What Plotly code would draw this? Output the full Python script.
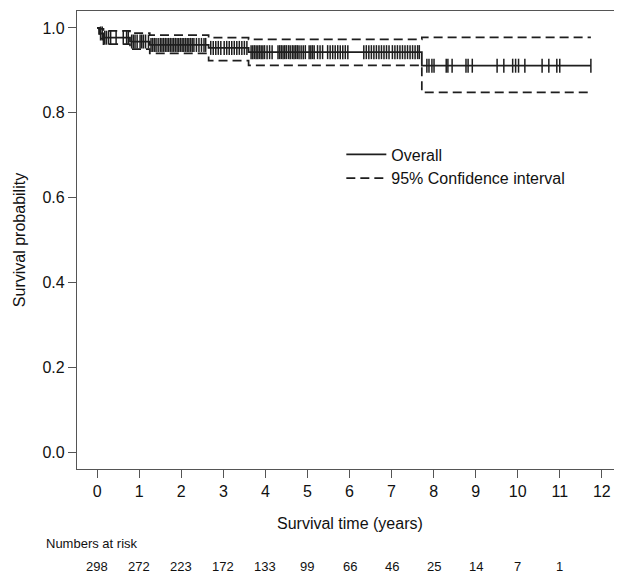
import plotly.graph_objects as go

# Kaplan-Meier step data (time in years)
step_times = [0, 0.05, 0.15, 0.78, 1.25, 2.65, 3.6, 7.72, 11.74]
surv = [1.0, 0.987, 0.977, 0.968, 0.960, 0.953, 0.943, 0.911, 0.911]
upper_ci = [1.0, 0.998, 0.993, 0.988, 0.983, 0.977, 0.973, 0.978, 0.978]
lower_ci = [1.0, 0.975, 0.962, 0.950, 0.940, 0.923, 0.912, 0.848, 0.848]

censor_times = [
    0.08, 0.12, 0.18, 0.22, 0.27, 0.32, 0.45, 0.62, 0.70, 0.74, 0.82, 0.86, 0.90, 0.95,
    1.02, 1.06, 1.10, 1.15, 1.22, 1.28, 1.32, 1.36, 1.40, 1.45, 1.50, 1.54, 1.58, 1.62,
    1.66, 1.70, 1.74, 1.78, 1.82, 1.86, 1.90, 1.94, 1.98,
    2.02, 2.06, 2.10, 2.14, 2.18, 2.22, 2.26, 2.30, 2.36, 2.42, 2.48, 2.54, 2.58, 2.70,
    2.76, 2.82, 2.88, 2.94,
    3.02, 3.08, 3.14, 3.20, 3.26, 3.32, 3.38, 3.44, 3.50, 3.56, 3.66, 3.70, 3.74, 3.78,
    3.82, 3.86, 3.90, 3.94, 3.98,
    4.04, 4.10, 4.16, 4.30, 4.34, 4.38, 4.42, 4.46, 4.50, 4.55, 4.59, 4.64, 4.68, 4.72,
    4.76, 4.80, 4.85, 4.90, 4.95,
    5.04, 5.08, 5.12, 5.16, 5.24, 5.30, 5.36, 5.48, 5.54, 5.60, 5.66, 5.72, 5.78, 5.84,
    5.90, 5.96,
    6.34, 6.40, 6.46, 6.52, 6.58, 6.64, 6.70, 6.76, 6.82, 6.88, 6.94,
    7.02, 7.08, 7.14, 7.20, 7.26, 7.32, 7.38, 7.44, 7.50, 7.56, 7.62, 7.66,
    7.84, 7.89, 7.96, 8.01, 8.30, 8.34, 8.44, 8.77, 8.82, 8.92, 9.51, 9.67, 9.88, 9.95,
    10.02, 10.17, 10.58, 10.74, 10.93, 11.00, 11.74,
]

risk_times = [0, 1, 2, 3, 4, 5, 6, 7, 8, 9, 10, 11]
risk_counts = [298, 272, 223, 172, 133, 99, 66, 46, 25, 14, 7, 1]
x_ticks = list(range(0, 13))
y_ticks = [0.0, 0.2, 0.4, 0.6, 0.8, 1.0]


def surv_at(t):
    val = surv[0]
    for st, sv in zip(step_times, surv):
        if st <= t:
            val = sv
    return val


censor_y = [surv_at(t) for t in censor_times]

LINE = "#1e1e1e"
FONT = "Liberation Sans, Arial, sans-serif"

fig = go.Figure()
fig.add_trace(go.Scatter(x=step_times, y=surv, mode="lines", line_shape="hv",
                         line=dict(color=LINE, width=1.8), name="Overall"))
fig.add_trace(go.Scatter(x=step_times, y=upper_ci, mode="lines", line_shape="hv",
                         line=dict(color=LINE, width=1.7, dash="9px,5px"),
                         name="95% Confidence interval"))
fig.add_trace(go.Scatter(x=step_times, y=lower_ci, mode="lines", line_shape="hv",
                         line=dict(color=LINE, width=1.7, dash="9px,5px"),
                         showlegend=False))
fig.add_trace(go.Scatter(x=censor_times, y=censor_y, mode="markers",
                         marker=dict(symbol="line-ns", size=10,
                                     line=dict(color=LINE, width=1.5)),
                         showlegend=False, hoverinfo="skip"))

annotations = [
    dict(text="Survival time (years)", xref="paper", yref="paper", x=0.5, y=-0.118,
         showarrow=False, font=dict(size=16, color="#111", family=FONT),
         xanchor="center", yanchor="middle"),
    dict(text="Numbers at risk", xref="paper", yref="paper", x=-0.06, y=-0.162,
         showarrow=False, font=dict(size=13, color="#111", family=FONT),
         xanchor="left", yanchor="middle"),
]
for t, n in zip(risk_times, risk_counts):
    annotations.append(dict(text=str(n), xref="x", yref="paper", x=t, y=-0.212,
                            showarrow=False, font=dict(size=13, color="#111", family=FONT),
                            xanchor="center", yanchor="middle"))

# the page body has an 8px default margin, so the figure is sized to fit
fig.update_layout(
    width=614, height=569,
    margin=dict(l=69, r=0, t=3, b=108),
    paper_bgcolor="white", plot_bgcolor="white",
    font=dict(family=FONT, size=16, color="#111"),
    showlegend=True,
    legend=dict(x=0.485, y=0.724, xanchor="left", yanchor="top",
                bgcolor="rgba(0,0,0,0)", font=dict(size=16, family=FONT),
                tracegroupgap=0, itemwidth=40),
    annotations=annotations,
    xaxis=dict(range=[-0.48, 12.48], tickvals=x_ticks, showgrid=False, zeroline=False,
               showline=True, linecolor="#555", linewidth=1.2, mirror=True,
               ticks="outside", ticklen=8, tickcolor="#555", tickwidth=1.2,
               tickfont=dict(size=16, family=FONT)),
    yaxis=dict(range=[-0.04, 1.04], tickvals=y_ticks, tickformat=".1f", showgrid=False,
               zeroline=False, showline=True, linecolor="#555", linewidth=1.2,
               ticks="outside", ticklen=8, tickcolor="#555", tickwidth=1.2,
               tickfont=dict(size=16, family=FONT),
               title=dict(text="Survival probability", standoff=12,
                          font=dict(size=16, family=FONT))),
)

fig.write_html("out.html")
